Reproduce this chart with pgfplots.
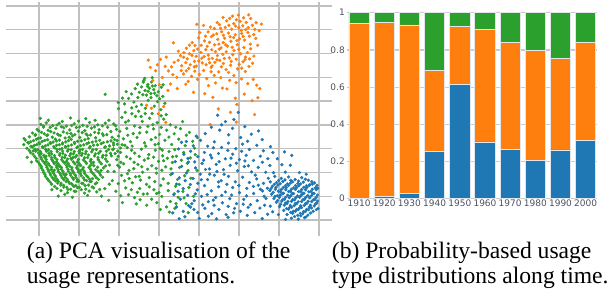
\documentclass[border=0pt]{standalone}
\usepackage{fontspec}
\setmainfont{Liberation Serif}
\newfontfamily\tickfont{DejaVu Sans}
\usepackage{pgfplots}
\pgfplotsset{compat=1.18}
\definecolor{tblue}{HTML}{1F77B4}
\definecolor{torange}{HTML}{FF7F0E}
\definecolor{tgreen}{HTML}{2CA02C}
\definecolor{gridc}{RGB}{192,192,192}
\definecolor{gridb}{RGB}{200,203,208}
\definecolor{barline}{RGB}{226,229,234}
\definecolor{tickc}{HTML}{4A5160}
\pgfplotsset{dots/.style={only marks, mark=*, mark size=1.45pt, color=#1, mark options={draw=none, fill=#1}}}
\begin{document}
\begin{tikzpicture}
\path[use as bounding box] (0,0) rectangle (610pt,-289pt);
% ---------------- (a) scatter ----------------
\begin{axis}[at={(6pt,-236pt)}, anchor=south west, scale only axis,
  width=326pt, height=234pt, xmin=6, xmax=332, ymin=2, ymax=236, y dir=reverse,
  xtick={39,79,119,159,199,239,279,319},
  ytick={6,29.8,53.6,77.3,101.1,124.9,148.7,172.4,196.2,220},
  xticklabels={}, yticklabels={}, grid=major,
  major grid style={draw=gridc, line width=1.3pt},
  axis line style={draw=none}, major tick length=0pt]
\addplot[dots=tgreen] coordinates {
(40.8,124.5) (46.2,122.9) (52.7,125.6) (59.1,123.2) (66.4,126.1) (74.2,123.8) (82.9,125.2) (89.6,122.4) (97.8,124.9) (105.3,123.1)
(37.2,129.4) (43.5,127.1) (48.1,130.2) (55.9,128.3) (61.4,126.8) (69.7,129.9) (76.3,127.5) (84.8,130.6) (91.5,128.1) (99.2,129.7) (107.6,127.2)
(32.6,133.1) (38.9,131.0) (44.3,133.8) (50.8,131.6) (57.5,134.2) (63.2,131.9) (70.9,133.5) (78.4,131.2) (86.1,134.0) (94.7,132.3) (102.5,133.9) (110.8,131.5)
(29.4,136.8) (35.1,135.2) (40.6,137.9) (46.8,135.5) (52.3,137.1) (58.7,135.0) (65.2,138.0) (72.6,135.9) (79.8,137.4) (87.3,135.3) (95.6,137.7) (103.4,135.6) (112.1,137.2)
(25.3,140.2) (30.7,141.8) (36.4,139.3) (42.1,141.5) (47.6,139.7) (53.2,142.0) (59.5,140.1) (65.8,141.9) (71.3,139.4) (77.6,141.3) (84.9,139.8) (92.2,142.1) (99.7,140.3) (107.4,141.7) (114.6,139.6)
(23.8,144.6) (28.5,143.1) (34.2,145.4) (39.6,143.7) (45.3,145.9) (50.9,143.3) (56.6,145.2) (62.4,143.9) (68.1,146.0) (74.7,143.5) (80.5,145.6) (86.8,143.8) (93.6,145.3) (101.2,143.6) (109.5,145.8) (117.3,144.2)
(26.9,148.3) (32.4,147.0) (37.8,149.6) (43.1,147.4) (48.5,149.9) (54.6,147.8) (59.8,149.2) (65.5,147.1) (71.2,149.8) (76.9,147.6) (82.6,149.4) (89.4,147.9) (96.3,149.5) (104.8,147.3) (112.7,149.7) (120.5,148.0)
(30.5,152.7) (35.8,151.1) (41.2,153.5) (46.6,151.4) (51.7,153.9) (57.3,151.6) (62.8,153.3) (67.5,151.2) (73.4,153.8) (79.1,151.5) (85.5,153.6) (91.7,151.8) (98.6,153.2) (106.4,151.3) (115.2,153.5)
(34.6,156.4) (39.3,155.0) (44.8,157.3) (49.4,155.6) (54.9,157.8) (59.6,155.3) (64.7,157.5) (69.8,155.7) (75.3,157.1) (81.4,155.4) (87.6,157.6) (94.5,155.9) (102.3,157.3) (111.4,155.8)
(36.7,160.9) (41.5,159.2) (46.3,161.6) (51.8,159.5) (56.4,161.8) (61.7,159.7) (66.5,161.3) (71.6,159.4) (77.4,161.7) (83.5,159.8) (90.4,161.2) (98.3,159.6) (107.1,161.5)
(39.8,164.5) (44.6,163.3) (49.7,165.7) (54.2,163.6) (59.3,165.4) (64.8,163.2) (69.4,165.9) (74.9,163.8) (80.6,165.5) (86.5,163.4) (93.8,165.6) (101.4,163.7) (109.6,165.1)
(41.6,168.2) (46.9,167.3) (51.3,169.6) (56.8,167.5) (61.5,169.3) (66.9,167.1) (71.8,169.8) (76.6,167.7) (82.7,169.1) (88.9,167.4) (95.7,169.7) (103.5,167.9)
(43.7,172.6) (48.6,171.0) (53.5,173.4) (58.4,171.5) (63.6,173.7) (68.3,171.3) (73.7,173.2) (78.5,171.8) (84.6,173.5) (91.3,171.6) (99.5,173.1) (107.8,171.4)
(45.5,176.3) (50.6,175.1) (55.7,177.2) (60.9,175.4) (65.4,177.6) (70.7,175.2) (75.8,177.4) (81.3,175.7) (87.9,177.0) (94.6,175.5) (102.7,177.3)
(48.7,180.5) (53.6,179.2) (58.3,181.4) (63.7,179.6) (68.6,181.7) (73.5,179.3) (78.8,181.2) (84.5,179.8) (91.2,181.5) (98.4,179.4)
(51.6,184.2) (57.8,183.1) (63.5,185.3) (69.6,183.5) (75.7,185.6) (81.8,183.3) (88.5,185.1) (95.4,183.7)
(56.9,188.4) (63.8,187.2) (70.6,189.3) (77.5,187.6) (85.7,189.1) (93.6,187.8) (99.6,189.5)
(67.5,192.6) (75.8,191.4) (84.6,193.1) (96.8,191.9)
(27.2,157.3) (31.4,162.1) (58.2,196.1) (72.4,197.3) (101.5,196.2) (24.1,138.6) (105.2,94.3)
(43.5,126.0) (50.2,127.4) (57.0,125.0) (63.8,127.8) (71.6,125.5) (79.5,127.0) (87.2,126.3) (94.5,126.9) (102.3,125.8)
(35.5,134.6) (41.6,132.4) (47.7,134.9) (54.1,132.9) (60.4,135.6) (67.1,133.1) (74.8,134.7) (82.3,132.6) (90.4,134.9) (98.6,133.0) (106.7,134.6)
(27.9,142.5) (33.5,140.7) (39.0,142.8) (44.8,140.4) (50.3,142.6) (56.4,141.0) (62.6,142.9) (68.5,140.6) (74.5,142.4) (81.2,140.9) (88.6,142.7) (96.0,141.2) (103.5,142.5) (111.0,140.8)
(30.9,146.3) (36.7,144.6) (42.4,146.8) (48.0,144.9) (53.7,146.6) (59.4,144.7) (65.3,146.5) (71.4,145.0) (77.6,146.9) (83.7,144.9) (90.2,146.6) (97.5,144.8) (105.3,146.7) (113.6,145.1)
(29.2,150.4) (34.9,149.1) (40.3,151.3) (45.6,149.5) (51.1,151.6) (57.0,149.4) (62.5,151.0) (68.3,149.6) (74.3,151.5) (80.0,149.8) (86.1,151.3) (92.9,149.7) (100.4,151.2) (108.6,149.6) (117.8,151.1)
(33.0,154.2) (38.5,153.0) (43.9,155.3) (48.9,153.3) (54.5,155.6) (60.0,153.5) (65.4,155.2) (70.8,153.6) (76.6,155.5) (82.3,153.4) (88.6,155.1) (95.3,153.9) (103.0,155.4) (110.5,153.3)
(36.3,158.4) (41.0,157.1) (46.2,159.4) (51.5,157.6) (56.9,159.6) (62.3,157.4) (67.6,159.1) (72.9,157.5) (78.4,159.5) (84.6,157.8) (91.0,159.3) (98.0,157.7) (105.5,159.1)
(38.6,162.6) (43.1,161.3) (48.3,163.5) (53.4,161.9) (58.0,163.6) (63.2,161.5) (68.2,163.4) (73.3,161.9) (79.2,163.5) (85.2,161.7) (91.9,163.3) (99.7,161.8)
(41.2,166.3) (46.3,165.2) (51.6,167.5) (56.5,165.6) (61.2,167.4) (66.6,165.3) (71.7,167.6) (77.2,165.8) (83.4,167.5) (90.3,165.6) (97.6,167.2) (105.6,165.9)
(43.0,170.4) (48.0,169.3) (52.9,171.6) (58.1,169.6) (63.0,171.3) (68.0,169.4) (73.0,171.7) (78.0,169.6) (84.3,171.4) (90.7,169.5) (97.8,171.3)
(45.0,174.5) (50.0,173.2) (55.0,175.4) (60.2,173.5) (64.9,175.6) (70.3,173.4) (75.4,175.3) (80.5,173.7) (86.4,175.6) (93.0,173.4) (100.7,175.2)
(47.3,178.6) (52.2,177.4) (57.2,179.5) (62.1,177.7) (67.3,179.3) (72.3,177.5) (77.6,179.6) (83.2,177.8) (89.5,179.2) (96.3,177.6)
(50.4,182.4) (55.5,181.0) (61.0,183.2) (66.2,181.5) (71.6,183.6) (77.0,181.3) (82.9,183.4) (89.9,181.6) (96.8,182.8)
(54.6,186.5) (60.7,185.1) (66.8,187.2) (73.0,185.4) (79.4,187.3) (85.2,185.5) (92.1,186.9)
(61.0,190.7) (67.9,189.6) (74.2,191.2) (81.3,189.7) (89.2,191.0)
(38.2,138.4) (55.3,139.1) (69.1,137.2) (88.2,138.6) (33.1,150.9) (62.0,148.5) (79.3,153.0) (46.0,156.2) (71.0,158.3) (93.5,162.4) (52.5,160.7) (59.9,166.5) (80.9,170.6) (66.2,174.3) (86.6,180.6) (54.3,170.2) (74.1,186.4) (92.5,178.6) (101.2,170.5) (106.1,155.2) (113.4,142.9) (118.6,136.1) (116.5,129.3) (113.8,123.9) (108.9,120.2) (95.1,120.3) (78.6,121.1) (62.4,121.5) (48.3,120.2) (70.4,117.9) (85.7,118.6) (40.3,118.4) (118.2,156.4) (120.9,162.3) (109.2,184.1) (104.8,188.6) (87.6,195.4) (64.7,194.4) (51.8,189.7)
(143.2,82.1) (147.8,84.5) (151.6,81.9) (155.3,85.7) (149.4,88.2) (145.1,90.4) (153.7,89.6) (158.2,91.8) (141.6,86.9) (150.8,93.5) (146.5,95.1) (156.9,95.8) (139.3,92.3) (135.2,88.6) (131.4,93.9) (161.4,87.2) (144.7,78.4) (152.3,77.6) (162.8,96.4) (137.8,97.5) (128.6,98.4) (133.9,102.1) (148.2,100.3) (157.5,101.6) (164.9,103.2) (141.5,104.7) (126.2,91.7) (124.5,103.8) (143.9,80.2) (163.1,84.8)
(147.5,86.4) (152.4,86.0) (148.1,91.3) (154.6,93.2) (142.9,94.8) (137.5,84.2) (159.6,98.7) (151.0,97.6)
(118.5,108.6) (125.3,112.4) (131.7,107.9) (138.6,111.2) (145.4,108.3) (152.1,113.5) (160.8,109.7) (166.3,114.6) (121.9,117.5) (128.4,120.8) (135.5,116.3) (142.3,121.4) (149.6,118.2) (157.2,122.6) (163.8,119.1) (170.4,124.8) (115.6,125.7) (119.8,131.3) (126.7,128.4) (133.2,133.6) (139.9,127.5) (146.8,132.1) (153.5,128.9) (159.6,134.4) (166.7,130.2) (174.2,133.8) (180.5,128.6) (186.3,135.2) (123.4,138.8) (130.5,141.7) (137.1,137.4) (144.5,142.9) (151.2,139.6) (158.4,143.8) (164.9,140.3) (171.6,144.5) (178.8,139.1) (185.2,145.6) (192.7,141.3) (197.4,137.6)
(113.5,148.9) (120.6,152.4) (127.2,147.6) (134.8,153.1) (141.4,149.3) (148.7,154.6) (155.3,150.2) (162.6,155.8) (169.1,151.4) (176.4,156.3) (183.7,152.5) (190.2,157.9) (116.8,159.6) (123.7,163.8) (130.3,158.7) (137.9,164.4) (144.2,160.1) (151.8,165.7) (158.5,161.3) (165.7,166.9) (172.3,162.5) (179.6,167.4) (187.4,163.2) (114.2,171.5) (121.5,175.3) (128.9,170.4) (135.6,176.8) (142.7,172.2) (149.3,177.6) (156.4,173.1) (163.2,178.9) (170.8,174.6) (177.5,179.5) (184.6,175.8) (118.3,183.6) (125.8,187.9) (132.4,182.7) (139.7,188.5) (146.5,184.3) (153.9,189.8) (160.7,185.4) (168.3,190.6) (175.6,186.2) (182.9,191.4) (120.7,195.8) (134.5,197.6) (143.3,194.1) (151.6,199.2) (161.8,196.4) (170.4,201.5) (178.2,197.3) (166.5,206.8) (174.9,208.3) (160.4,209.5) (186.1,203.6) (136.2,203.9) (146.8,205.2) (115.9,191.2) (108.7,200.3) (122.4,202.6) (128.5,194.6)
(117.2,140.5) (124.9,145.3) (131.6,150.2) (139.2,156.4) (145.8,146.1) (153.6,157.3) (160.1,148.6) (167.4,158.2) (119.5,167.2) (126.6,156.8) (133.8,168.6) (140.5,180.1) (147.6,169.3) (154.7,181.6) (161.9,170.2) (112.3,180.7) (129.1,178.5) (137.4,192.3) (156.7,193.5) (174.3,193.7)
(122.1,144.8) (127.8,135.2) (134.6,125.9) (141.2,116.5) (147.9,126.3) (155.6,137.6) (161.2,127.4) (168.9,137.1) (175.8,127.2) (182.6,121.6) (189.4,132.4) (194.5,148.2) (188.1,170.4) (181.4,160.2) (174.7,149.6) (168.2,183.3) (158.9,192.4) (149.2,186.9) (140.1,199.8) (131.3,189.7) (124.6,180.8) (117.7,165.4) (127.5,173.6) (134.1,162.2) (141.8,166.8) (148.1,158.3) (156.2,168.4) (163.6,160.7) (171.0,168.8) (179.2,184.4) (188.9,187.5) (184.1,197.9) (176.0,203.6) (169.4,212.1) (156.8,202.7) (147.3,193.8) (139.2,176.3) (131.9,113.8) (122.5,98.2) (118.3,102.5) (136.4,106.6) (154.3,106.2) (161.1,115.8) (145.2,113.6) (152.8,124.7) (139.8,132.9) (132.1,146.1) (125.6,122.3) (162.3,150.1) (155.1,144.7) (172.6,156.8) (195.3,154.6) (190.8,178.2) (197.1,170.5) (193.6,196.3) (188.2,212.6)
};
\addplot[dots=torange] coordinates {
(232.5,16.2) (238.4,15.1) (243.6,17.8) (250.7,18.5) (246.2,22.4) (240.1,21.3) (233.8,23.6) (226.7,20.9) (219.5,24.7) (225.3,27.4) (231.6,29.2) (238.9,27.8) (245.7,29.6) (252.4,25.3) (256.1,22.8) (241.7,33.5) (235.2,34.8) (228.4,33.1) (221.6,31.7) (214.3,28.5) (208.1,31.9) (203.6,25.4) (196.8,24.3) (249.3,36.2) (255.8,38.4) (259.2,30.7) (244.5,40.1)
(211.4,36.6) (217.8,39.4) (224.6,38.2) (230.9,41.3) (237.3,44.7) (243.8,47.5) (250.2,44.1) (204.5,40.8) (198.7,37.9) (192.3,42.6) (207.2,46.3) (214.6,44.8) (221.1,47.9) (227.5,46.2) (234.1,50.4) (240.6,53.8) (247.4,52.6) (253.9,56.1) (186.4,48.3) (193.8,50.7) (200.9,52.4) (208.3,55.1) (215.5,51.6) (222.8,54.3) (229.3,57.9) (236.2,59.2) (243.1,61.8) (180.5,55.6) (187.2,58.9) (194.5,61.4) (201.8,58.2) (209.6,62.7) (216.9,59.8) (223.4,63.5) (230.6,65.2) (237.5,68.9) (174.2,62.3) (181.6,65.7) (188.7,68.4) (196.3,66.1) (203.7,70.5) (211.3,67.4) (218.7,71.9) (226.1,69.6) (248.9,66.4) (183.5,73.8) (191.6,76.2) (199.4,74.5) (168.5,70.9) (176.8,77.3) (206.7,78.6) (214.2,75.4) (245.3,71.5) (252.6,63.2)
(196.2,56.3) (189.4,53.7) (205.8,49.6) (212.4,58.4) (219.3,49.1) (226.2,51.8) (232.8,54.6) (202.3,62.9) (195.1,45.4) (216.8,33.8) (223.2,42.6) (233.7,37.5) (239.5,38.9) (247.9,32.4) (228.9,25.3) (236.4,19.7) (242.8,25.8) (212.1,65.9) (185.7,62.6) (178.3,51.2) (199.8,32.7) (209.5,42.3)
(229.7,18.4) (235.6,26.1) (241.3,30.4) (248.2,27.6) (223.4,35.2) (230.1,36.8) (236.9,40.6) (243.2,36.5) (218.9,44.1) (225.7,44.8) (232.2,47.3) (238.8,49.4) (245.5,57.2) (211.8,49.8) (217.4,55.6) (224.4,58.5) (231.3,61.4) (239.2,64.3) (197.6,49.1) (204.2,56.5) (192.0,55.4) (183.6,57.3) (190.2,64.8) (198.9,61.0) (206.1,64.8) (214.8,62.3) (221.4,66.8) (228.6,72.4) (181.3,70.6) (194.8,71.2) (220.6,28.3) (213.3,35.0) (250.6,48.7) (254.8,29.4) (245.1,59.6)
(189.5,45.2) (183.9,52.7) (178.2,60.3) (171.5,66.8) (186.2,70.9) (201.2,45.3) (205.5,36.2) (210.4,27.1) (217.2,22.6) (223.1,17.4) (248.7,14.8) (253.8,34.6) (257.7,45.3) (249.5,58.8) (241.7,68.1) (233.9,75.6) (220.8,77.6) (211.1,71.8) (197.5,79.3) (188.3,81.4) (172.9,74.7) (166.3,57.1) (157.4,64.8) (261.4,24.1) (219.7,60.4) (208.9,59.1) (194.3,66.9)
(173.4,42.8) (148.2,60.1) (160.5,59.4) (165.2,66.3) (155.6,70.8) (162.4,77.5) (152.8,80.6) (159.3,84.7) (170.6,83.9) (150.3,67.3) (163.7,106.5) (151.4,108.3) (146.6,105.2) (165.8,122.4) (158.3,113.7) (167.9,90.4) (177.2,88.6) (185.8,84.2) (193.5,92.3)
(208.5,85.7) (215.6,82.9) (222.4,88.1) (229.7,80.3) (236.1,82.7) (241.4,78.9) (247.8,83.6) (253.2,79.4) (256.7,85.2) (259.8,88.6) (235.4,98.2) (236.8,104.5) (257.9,97.8) (254.6,114.6) (218.3,108.9) (210.2,124.6) (236.3,122.1) (226.9,88.9) (244.3,94.1) (212.9,97.3) (204.7,93.6) (252.1,100.7) (230.5,112.4)
};
\addplot[dots=tblue] coordinates {
(281.3,178.4) (288.6,176.9) (295.2,179.5) (301.7,177.6) (308.4,180.2)
(276.5,182.7) (282.8,181.5) (287.4,183.9) (292.6,181.8) (297.9,183.4) (303.3,182.1) (309.7,184.6) (314.5,182.9)
(272.4,186.3) (277.9,185.1) (283.2,187.6) (288.5,185.4) (293.7,187.9) (298.6,185.7) (303.9,187.2) (309.2,185.5) (315.3,187.8)
(269.8,190.5) (275.3,189.3) (280.6,191.8) (285.7,189.6) (290.4,191.2) (295.5,189.4) (300.8,191.7) (305.6,189.8) (310.9,191.4) (316.2,189.7)
(271.6,194.2) (277.2,195.8) (282.4,193.6) (287.6,195.3) (292.3,193.4) (297.4,195.9) (302.5,193.8) (307.8,195.6) (312.6,193.5) (317.4,195.1)
(273.9,198.6) (279.4,197.2) (284.5,199.5) (289.3,197.6) (294.6,199.8) (299.7,197.3) (304.4,199.4) (309.6,197.7) (314.8,199.6)
(276.4,202.3) (281.7,201.1) (286.8,203.5) (291.5,201.4) (296.7,203.7) (301.6,201.6) (306.9,203.2) (311.7,201.5) (316.5,203.3)
(279.5,206.6) (284.3,205.2) (289.6,207.4) (294.2,205.6) (299.5,207.8) (304.2,205.4) (309.3,207.1) (314.2,205.9)
(283.7,210.4) (288.5,209.1) (293.4,211.3) (298.3,209.5) (303.6,211.6) (308.5,209.7) (313.1,211.2)
(287.2,214.5) (292.6,213.2) (297.8,215.3) (302.7,213.6) (307.9,215.1)
(291.4,218.3) (298.2,219.1) (304.5,217.6)
(278.6,180.5) (285.0,179.8) (290.8,180.4) (298.6,181.1) (305.4,179.2) (311.8,181.6)
(274.3,184.3) (280.1,183.7) (285.4,185.8) (290.3,183.2) (295.6,185.6) (300.6,183.9) (306.5,185.9) (312.2,184.1) (317.0,185.4)
(271.1,188.4) (276.0,187.4) (281.3,189.6) (286.3,187.5) (291.4,189.3) (296.6,187.6) (301.6,189.5) (306.8,187.6) (312.4,189.3) (317.6,188.2)
(273.2,192.3) (278.4,191.3) (283.5,193.4) (288.6,191.6) (293.6,193.6) (298.7,191.5) (303.9,193.2) (308.8,191.8) (314.0,193.3)
(275.0,196.4) (280.2,195.1) (285.6,197.4) (290.8,195.6) (295.9,197.7) (300.9,195.4) (305.8,197.4) (311.3,195.7) (316.1,197.6)
(277.5,200.5) (282.9,199.3) (287.9,201.4) (292.7,199.6) (298.2,201.8) (303.0,199.6) (308.1,201.3) (313.3,199.7) (317.5,201.2)
(280.6,204.2) (285.4,203.1) (290.4,205.4) (295.4,203.5) (300.6,205.7) (305.5,203.5) (310.4,205.2) (315.5,203.8)
(286.6,208.6) (291.7,207.3) (296.7,209.5) (301.6,207.6) (306.6,209.4) (311.6,207.9) (316.4,209.6)
(290.7,212.4) (295.4,211.2) (300.4,213.4) (305.4,211.5) (310.6,213.1)
(294.6,216.6) (300.8,215.8) (306.1,216.9)
(268.3,178.3) (273.5,172.6) (285.2,172.1) (290.4,165.2) (266.1,198.4) (270.2,206.1) (278.4,214.6) (285.6,219.4) (272.6,211.7) (318.1,208.6) (262.5,190.8) (258.3,185.2)
(217.6,115.2) (238.3,112.4) (225.4,121.6) (232.5,128.3) (219.8,130.1) (211.4,127.3) (205.2,133.6) (244.8,126.7) (251.3,134.2) (228.6,134.8) (196.3,136.1) (240.7,137.5) (258.6,130.9)
(186.4,141.5) (193.2,145.8) (200.5,140.3) (207.7,146.2) (214.3,141.8) (221.6,147.4) (228.4,143.1) (235.7,148.6) (242.5,144.2) (249.3,149.5) (256.8,145.3) (263.4,150.8) (270.5,146.6) (178.6,148.9) (183.9,154.3) (190.6,151.2) (197.8,156.7) (204.4,152.4) (211.8,157.9) (218.5,153.5) (225.3,158.8) (232.7,154.2) (239.4,159.6) (246.2,155.3) (253.6,160.4) (260.3,156.2) (291.8,155.4) (277.4,158.7)
(175.2,161.6) (181.7,166.3) (188.4,162.1) (195.5,167.8) (202.1,163.5) (209.4,168.9) (216.2,164.4) (223.5,169.7) (230.2,165.3) (237.6,170.8) (244.3,166.5) (251.5,171.9) (258.2,167.4) (265.7,172.3) (172.4,173.5) (179.3,177.8) (186.5,172.9) (193.1,178.4) (200.3,174.2) (207.6,179.6) (214.4,175.3) (221.2,180.7) (228.5,176.4) (235.3,181.8) (242.6,177.2) (249.4,182.5) (256.7,178.9) (263.5,183.4) (176.6,184.1) (183.2,188.6) (190.4,184.5) (197.2,189.9)
(204.5,185.6) (211.3,190.8) (218.6,186.7) (225.4,191.9) (232.7,187.5) (239.5,192.6) (246.8,188.4) (253.6,193.5) (260.4,189.2) (173.8,194.7) (180.4,199.2) (187.6,195.3) (194.3,200.6) (201.5,196.4) (208.3,201.7) (215.6,197.5) (222.4,202.8) (229.7,198.6) (236.5,203.6) (243.7,199.4) (250.5,204.7) (257.3,200.6) (264.6,205.3) (176.5,206.8) (183.3,211.4) (190.5,207.2) (197.6,212.5) (204.9,208.3) (211.7,213.6) (218.9,209.4) (226.2,214.7) (240.4,211.3) (254.7,212.6) (172.8,212.9) (184.9,216.8) (199.2,218.4) (216.5,218.9) (181.5,142.3) (228.1,217.3)
(203.6,160.2) (210.5,155.1) (219.2,161.7) (227.8,150.4) (236.4,163.2) (244.9,160.9) (201.3,179.7) (209.8,174.1) (218.4,181.9) (226.9,184.3) (188.6,205.6) (195.4,193.8) (207.2,194.6) (214.1,205.3) (221.8,195.4) (246.5,195.8) (264.1,196.2) (267.4,188.3) (234.6,208.4) (248.2,207.3)
(187.9,158.4) (194.7,161.9) (213.4,147.8) (231.0,158.1) (241.6,151.2) (248.4,165.8) (255.2,175.1) (262.4,162.3) (269.9,165.5) (274.8,176.4) (270.2,181.9) (267.8,158.7) (281.9,164.8) (253.4,186.4) (238.9,185.5) (231.6,195.1) (224.1,174.3) (216.9,171.4) (205.5,169.5) (197.9,183.2) (185.3,180.6) (178.1,191.2) (191.8,203.7) (202.8,204.9) (213.3,200.1) (228.2,206.4) (243.2,204.2) (259.9,208.1) (267.6,214.2) (262.3,218.6) (247.3,215.4) (233.6,212.8) (208.4,216.2) (193.9,209.4) (179.2,218.7) (221.6,124.8) (233.9,119.5) (247.6,141.3) (262.2,139.6) (272.8,152.5) (284.5,151.9) (299.4,172.6) (306.2,174.2)
};
\end{axis}
% ---------------- (b) stacked bars ----------------
\begin{axis}[at={(346.5pt,-198.7pt)}, anchor=south west, scale only axis,
  width=250.5pt, height=186pt, ybar stacked, bar width=20.3pt,
  xmin=-0.5, xmax=9.45, ymin=0, ymax=1,
  xtick={0,...,9}, xticklabels={1910,1920,1930,1940,1950,1960,1970,1980,1990,2000},
  ytick={0,0.2,0.4,0.6,0.8,1}, yticklabels={0,0.2,0.4,0.6,0.8,1},
  ymajorgrids, major grid style={draw=gridb, line width=1.2pt},
  axis line style={draw=none}, major tick length=0pt,
  tick label style={font=\tickfont\fontsize{9}{10}\selectfont, text=tickc},
  xticklabel style={inner sep=1pt}, yticklabel style={inner sep=1.5pt},
  every axis plot/.append style={draw=barline, line width=0.8pt}]
\addplot[fill=tblue] coordinates {(0,0) (1,0.011) (2,0.029) (3,0.254) (4,0.616) (5,0.305) (6,0.263) (7,0.206) (8,0.262) (9,0.314)};
\addplot[fill=torange] coordinates {(0,0.943) (1,0.935) (2,0.905) (3,0.436) (4,0.311) (5,0.604) (6,0.579) (7,0.591) (8,0.491) (9,0.527)};
\addplot[fill=tgreen] coordinates {(0,0.057) (1,0.054) (2,0.066) (3,0.310) (4,0.073) (5,0.091) (6,0.158) (7,0.203) (8,0.247) (9,0.159)};
\end{axis}
% ---------------- captions ----------------
\begin{scope}[every node/.style={anchor=base west, inner sep=0pt, font=\fontsize{23.6pt}{25pt}\selectfont}]
\node at (26.7pt,-258.3pt) {(a) PCA visualisation of the};
\node at (26.7pt,-283.3pt) {usage representations.};
\node at (331.7pt,-258.3pt) {(b) Probability-based usage};
\node at (331.7pt,-283.3pt) {type distributions along time.};
\end{scope}
\end{tikzpicture}
\end{document}
